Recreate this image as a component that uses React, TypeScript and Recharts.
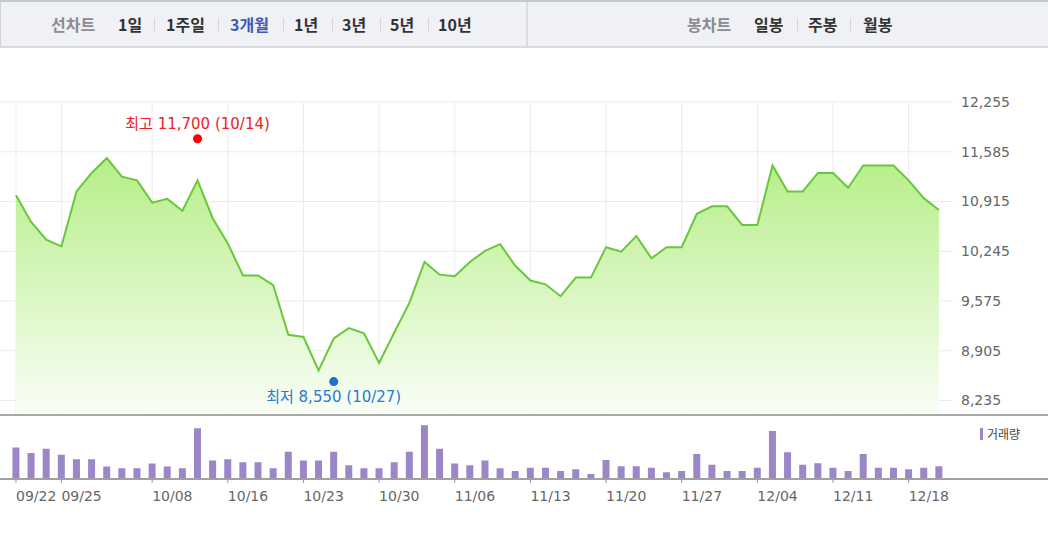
import React from 'react';
import {
  ComposedChart,
  Area,
  Bar,
  XAxis,
  YAxis,
  CartesianGrid,
  ReferenceDot,
} from 'recharts';

// ---- data ----
const prices: number[] = [
  11000, 10640, 10400, 10310, 11050, 11300, 11500, 11250, 11200, 10900,
  10950, 10790, 11200, 10690, 10350, 9920, 9920, 9790, 9120, 9090,
  8640, 9070, 9210, 9140, 8740, 9150, 9550, 10100, 9930, 9910,
  10100, 10250, 10340, 10050, 9850, 9800, 9640, 9890, 9890, 10300,
  10240, 10450, 10150, 10300, 10300, 10750, 10850, 10850, 10600, 10600,
  11400, 11050, 11050, 11300, 11300, 11100, 11400, 11400, 11400, 11200,
  10960, 10800,
];

const volumes: number[] = [
  310000, 253000, 297000, 237000, 190000, 190000, 117000, 100000, 100000, 147000,
  117000, 100000, 507000, 177000, 190000, 160000, 160000, 100000, 267000, 177000,
  177000, 267000, 130000, 100000, 100000, 160000, 267000, 537000, 297000, 147000,
  130000, 177000, 100000, 72000, 103000, 103000, 72000, 89000, 41000, 182000,
  120000, 120000, 103000, 58000, 72000, 244000, 134000, 72000, 72000, 103000,
  477000, 261000, 134000, 151000, 103000, 72000, 244000, 103000, 103000, 89000,
  103000, 120000,
];

const tickIdx: number[] = [0, 3, 9, 14, 19, 24, 29, 34, 39, 44, 49, 54, 59];
const tickLabels: string[] = [
  '09/22', '09/25', '10/08', '10/16', '10/23', '10/30', '11/06',
  '11/13', '11/20', '11/27', '12/04', '12/11', '12/18',
];
const priceTicks: number[] = [8235, 8905, 9575, 10245, 10915, 11585, 12255];

const highIdx = 12;
const highValue = 11700;
const highLabel = '최고 11,700 (10/14)';
const lowIdx = 21;
const lowValue = 8550;
const lowLabel = '최저 8,550 (10/27)';

const lineTabs: string[] = ['1일', '1주일', '3개월', '1년', '3년', '5년', '10년'];
const lineTabX: number[] = [117, 165, 229, 293, 341, 389, 437];
const lineSepX: number[] = [153, 217, 282, 331, 379, 427];
const candleTabs: string[] = ['일봉', '주봉', '월봉'];
const candleTabX: number[] = [753, 807, 862];
const candleSepX: number[] = [796, 849];
const activeTab = '3개월';
const volumeLegend = '거래량';

const data = prices.map((p, i) => ({ idx: i, price: p, volume: volumes[i] }));

const X_DOMAIN: [number, number] = [-1.057, 61.93];
const NUM_FONT = "'DejaVu Sans', 'Noto Sans CJK KR', sans-serif";
const KR_FONT = "'Noto Sans CJK KR', sans-serif";

const fmt = (v: number) => v.toLocaleString('en-US');

const HighShape = (props: any) => {
  const { cx, cy } = props;
  return (
    <g>
      <circle cx={cx} cy={cy - 4.5} r={4.5} fill="#ff0000" />
      <text x={cx} y={cy - 14} textAnchor="middle" fill="#ee1c24" fontSize={15} fontFamily={NUM_FONT}>
        {highLabel}
      </text>
    </g>
  );
};

const LowShape = (props: any) => {
  const { cx, cy } = props;
  return (
    <g>
      <circle cx={cx} cy={cy + 4.5} r={4.5} fill="#1f6fd6" />
      <text x={cx} y={cy + 25} textAnchor="middle" fill="#2a78d8" fontSize={15} fontFamily={NUM_FONT}>
        {lowLabel}
      </text>
    </g>
  );
};

const VolTick = (props: any) => {
  const { x, y, payload } = props;
  const k = tickIdx.indexOf(payload.value);
  return (
    <text x={x} y={y + 16} textAnchor="start" fill="#666" fontSize={14} fontFamily={NUM_FONT}>
      {k >= 0 ? tickLabels[k] : ''}
    </text>
  );
};

const EmptyTick = () => <g />;

export default function App() {
  return (
    <div
      style={{
        position: 'absolute',
        left: 0,
        top: 0,
        width: 1048,
        height: 537,
        background: '#fff',
        overflow: 'hidden',
      }}
    >
      {/* toolbar */}
      <div
        style={{
          position: 'absolute',
          left: 0,
          top: 0,
          width: 1048,
          height: 48,
          boxSizing: 'border-box',
          background: '#f0f1f5',
          borderTop: '2px solid #c6c8d0',
          borderBottom: '2px solid #d8dae0',
          borderLeft: '1px solid #d0d2d8',
          fontFamily: KR_FONT,
          fontWeight: 700,
          fontSize: 16,
        }}
      >
        <div style={{ position: 'absolute', left: 525, top: 0, width: 2, height: 44, background: '#dcdde3' }} />
        <span style={{ position: 'absolute', left: 50, top: 10, color: '#8a8c92', lineHeight: '24px' }}>선차트</span>
        {lineTabs.map((t, i) => (
          <span
            key={t}
            style={{
              position: 'absolute',
              left: lineTabX[i],
              top: 10,
              lineHeight: '24px',
              color: t === activeTab ? '#3f5bb0' : '#333',
            }}
          >
            {t}
          </span>
        ))}
        {lineSepX.map((x) => (
          <div key={x} style={{ position: 'absolute', left: x, top: 16, width: 1, height: 13, background: '#d4d6dc' }} />
        ))}
        <span style={{ position: 'absolute', left: 686, top: 10, color: '#8a8c92', lineHeight: '24px' }}>봉차트</span>
        {candleTabs.map((t, i) => (
          <span key={t} style={{ position: 'absolute', left: candleTabX[i], top: 10, lineHeight: '24px', color: '#333' }}>
            {t}
          </span>
        ))}
        {candleSepX.map((x) => (
          <div key={x} style={{ position: 'absolute', left: x, top: 16, width: 1, height: 13, background: '#d4d6dc' }} />
        ))}
      </div>

      {/* price chart */}
      <div style={{ position: 'absolute', left: 0, top: 0 }}>
        <ComposedChart width={1048} height={420} data={data} margin={{ top: 102, right: 0, bottom: 6.5, left: 0 }}>
          <defs>
            <linearGradient id="priceFill" x1="0" y1="0" x2="0" y2="1">
              <stop offset="0%" stopColor="#b6ee88" />
              <stop offset="100%" stopColor="#fafef6" />
            </linearGradient>
          </defs>
          <CartesianGrid stroke="#ebebeb" strokeWidth={1} syncWithTicks />
          <XAxis
            dataKey="idx"
            type="number"
            domain={X_DOMAIN}
            ticks={tickIdx}
            interval={0}
            tick={<EmptyTick />}
            tickLine={false}
            axisLine={false}
            height={0}
            allowDataOverflow
          />
          <YAxis
            orientation="right"
            type="number"
            domain={[8060, 12255]}
            ticks={priceTicks}
            tickFormatter={fmt}
            width={95}
            axisLine={false}
            tickLine={false}
            tickSize={6}
            tickMargin={2}
            allowDataOverflow
            tick={{ fill: '#666', fontSize: 14, fontFamily: NUM_FONT }}
          />
          <Area
            type="linear"
            dataKey="price"
            stroke="#68c83a"
            strokeWidth={2}
            fill="url(#priceFill)"
            fillOpacity={1}
            isAnimationActive={false}
            dot={false}
            activeDot={false}
          />
          <ReferenceDot x={highIdx} y={highValue} shape={HighShape} />
          <ReferenceDot x={lowIdx} y={lowValue} shape={LowShape} />
        </ComposedChart>
      </div>

      {/* separator line under price chart */}
      <div style={{ position: 'absolute', left: 0, top: 414, width: 1048, height: 2, background: '#a8a8a8' }} />

      {/* volume chart */}
      <div style={{ position: 'absolute', left: 0, top: 416 }}>
        <ComposedChart width={1048} height={121} data={data} margin={{ top: 3, right: 95, bottom: 29, left: 0 }}>
          <XAxis
            dataKey="idx"
            type="number"
            domain={X_DOMAIN}
            ticks={tickIdx}
            interval={0}
            tick={<VolTick />}
            tickLine={{ stroke: '#999' }}
            tickSize={5}
            tickMargin={2}
            axisLine={false}
            height={30}
            allowDataOverflow
          />
          <YAxis hide type="number" domain={[0, 600000]} />
          <Bar dataKey="volume" fill="#9b86c7" barSize={7} isAnimationActive={false} />
        </ComposedChart>
      </div>

      {/* volume legend */}
      <div
        style={{
          position: 'absolute',
          left: 980,
          top: 427,
          display: 'flex',
          alignItems: 'center',
          fontFamily: KR_FONT,
          fontSize: 12,
          color: '#444',
          lineHeight: '14px',
        }}
      >
        <span style={{ display: 'inline-block', width: 3, height: 12, background: '#9b86c7', marginRight: 4 }} />
        <span>{volumeLegend}</span>
      </div>

      {/* volume baseline */}
      <div style={{ position: 'absolute', left: 0, top: 478, width: 1048, height: 2, background: '#a0a0a0' }} />
    </div>
  );
}
